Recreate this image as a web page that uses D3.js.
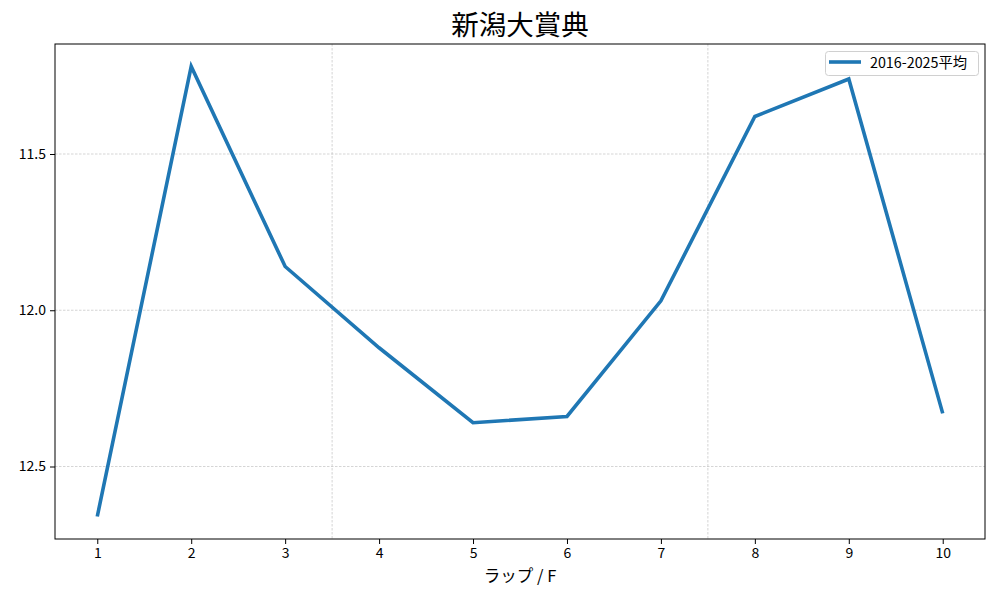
<!DOCTYPE html>
<html><head><meta charset="utf-8">
<script src="https://cdn.jsdelivr.net/npm/d3@7"></script>
<style>
body{margin:0;background:#fff;}
text{font-family:"Noto Sans CJK JP","Noto Sans",sans-serif;}
</style></head>
<body><svg id="c" width="1000" height="600"></svg>
<script>
const laps = [1,2,3,4,5,6,7,8,9,10];
const avgValues = [12.66,11.22,11.86,12.12,12.36,12.34,11.97,11.38,11.26,12.33];
const yTicks = [11.5,12.0,12.5];
const seriesName = "2016-2025平均";
const title = "新潟大賞典";
const xLabel = "ラップ / F";

const svg = d3.select("#c");
const L=55,R=985,T=44,B=539;
const xPad = (10-1)*0.05;
const x = d3.scaleLinear().domain([1-xPad,10+xPad]).range([L,R]);
const mn=d3.min(avgValues), mx=d3.max(avgValues), p=(mx-mn)*0.05;
const y = d3.scaleLinear().domain([mn-p,mx+p]).range([T,B]);

// grid
const g = svg.append("g");
g.selectAll(".hg").data(yTicks).join("line")
 .attr("x1",L).attr("x2",R).attr("y1",d=>y(d)).attr("y2",d=>y(d))
 .attr("stroke","#b8b8b8").attr("stroke-width",0.6).attr("stroke-dasharray","2.5,1.5");
g.selectAll(".vg").data([3.5,7.5]).join("line")
 .attr("y1",T).attr("y2",B).attr("x1",d=>x(d)).attr("x2",d=>x(d))
 .attr("stroke","#b8b8b8").attr("stroke-width",0.6).attr("stroke-dasharray","2.5,1.5");

// line
svg.append("path").datum(laps.map((l,i)=>[l,avgValues[i]]))
 .attr("d",d3.line().x(d=>x(d[0])).y(d=>y(d[1])))
 .attr("fill","none").attr("stroke","#1f77b4").attr("stroke-width",3.6)
 .attr("stroke-linejoin","miter");

// axes
const xa = svg.append("g").attr("transform",`translate(0,${B})`)
 .call(d3.axisBottom(x).tickValues(laps).tickFormat(d3.format("d")).tickSize(5).tickPadding(4));
const ya = svg.append("g").attr("transform",`translate(${L},0)`)
 .call(d3.axisLeft(y).tickValues(yTicks).tickFormat(d3.format(".1f")).tickSize(5).tickPadding(4));
[xa,ya].forEach(a=>{a.select(".domain").remove();a.selectAll("text").attr("font-size",14).attr("fill","#000");a.selectAll("line").attr("stroke","#000").attr("stroke-width",1);});

svg.append("rect").attr("x",L).attr("y",T).attr("width",R-L).attr("height",B-T)
 .attr("fill","none").attr("stroke","#000").attr("stroke-width",1);

// title & label
svg.append("text").attr("x",(L+R)/2).attr("y",35).attr("text-anchor","middle")
 .attr("font-size",27.5).text(title);
svg.append("text").attr("x",(L+R)/2).attr("y",582).attr("text-anchor","middle")
 .attr("font-size",16.5).text(xLabel);

// legend
const lg = svg.append("g");
lg.append("rect").attr("x",825.5).attr("y",51.5).attr("width",153).attr("height",24).attr("rx",3)
 .attr("fill","#fff").attr("fill-opacity",0.8).attr("stroke","#d0d0d0");
lg.append("line").attr("x1",829).attr("x2",861).attr("y1",62).attr("y2",62)
 .attr("stroke","#1f77b4").attr("stroke-width",3.6);
lg.append("text").attr("x",870).attr("y",67.5).attr("font-size",14.3).text(seriesName);
</script></body></html>
